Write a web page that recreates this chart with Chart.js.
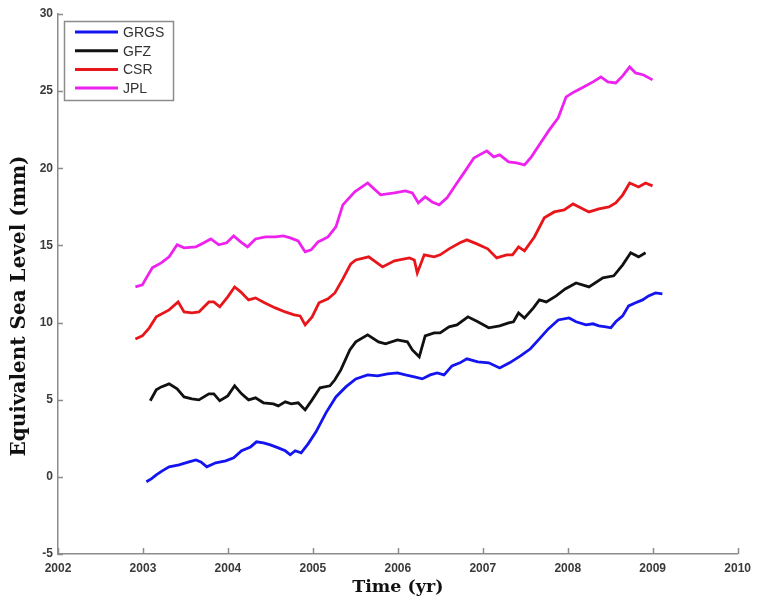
<!DOCTYPE html>
<html>
<head>
<meta charset="utf-8">
<script src="https://cdn.jsdelivr.net/npm/chart.js@4/dist/chart.umd.min.js"></script>
<style>
  html, body { margin: 0; padding: 0; background: #ffffff; }
  #wrap { width: 758px; height: 601px; }
</style>
</head>
<body>
<div id="wrap"><canvas id="c" width="758" height="601"></canvas></div>
<script>
// Equivalent sea level from GRACE solutions (mm), by decimal year
const seriesNames = ['GRGS', 'GFZ', 'CSR', 'JPL'];
const seriesColors = ['#1414f0', '#111111', '#e8161b', '#ee22ee'];

const grgsYear = [2003.040, 2003.098, 2003.157, 2003.227, 2003.308, 2003.425, 2003.542, 2003.624, 2003.682, 2003.752,
  2003.857, 2003.974, 2004.068, 2004.161, 2004.266, 2004.336, 2004.418, 2004.500, 2004.593, 2004.675,
  2004.734, 2004.792, 2004.862, 2004.944, 2005.037, 2005.154, 2005.271, 2005.388, 2005.505, 2005.645,
  2005.762, 2005.879, 2005.995, 2006.089, 2006.194, 2006.287, 2006.381, 2006.463, 2006.544, 2006.638,
  2006.731, 2006.813, 2006.942, 2007.070, 2007.199, 2007.315, 2007.444, 2007.561, 2007.666, 2007.771,
  2007.888, 2008.016, 2008.098, 2008.215, 2008.297, 2008.367, 2008.449, 2008.507, 2008.565, 2008.647,
  2008.717, 2008.799, 2008.881, 2008.951, 2009.033, 2009.114];
const grgsLevel = [-0.32, -0.13, 0.13, 0.39, 0.65, 0.78, 0.97, 1.10, 0.97, 0.65,
  0.91, 1.04, 1.23, 1.69, 1.94, 2.27, 2.20, 2.07, 1.88, 1.69,
  1.43, 1.69, 1.56, 2.14, 2.92, 4.15, 5.18, 5.83, 6.35, 6.61,
  6.55, 6.68, 6.74, 6.61, 6.48, 6.35, 6.61, 6.74, 6.61, 7.19,
  7.39, 7.65, 7.45, 7.39, 7.06, 7.39, 7.84, 8.30, 8.94, 9.59,
  10.17, 10.30, 10.05, 9.85, 9.92, 9.79, 9.72, 9.66, 10.05, 10.43,
  11.08, 11.28, 11.47, 11.73, 11.92, 11.86];

const gfzYear = [2003.086, 2003.157, 2003.215, 2003.308, 2003.402, 2003.484, 2003.577, 2003.659, 2003.776, 2003.834,
  2003.904, 2003.998, 2004.079, 2004.161, 2004.243, 2004.325, 2004.418, 2004.535, 2004.593, 2004.675,
  2004.745, 2004.827, 2004.909, 2004.991, 2005.084, 2005.201, 2005.259, 2005.329, 2005.435, 2005.505,
  2005.645, 2005.773, 2005.855, 2005.995, 2006.112, 2006.171, 2006.252, 2006.322, 2006.428, 2006.498,
  2006.603, 2006.696, 2006.825, 2006.942, 2007.070, 2007.199, 2007.304, 2007.362, 2007.421, 2007.491,
  2007.596, 2007.666, 2007.748, 2007.864, 2007.970, 2008.098, 2008.250, 2008.414, 2008.542, 2008.647,
  2008.741, 2008.834, 2008.916];
const gfzLevel = [4.93, 5.64, 5.83, 6.03, 5.70, 5.18, 5.06, 4.99, 5.38, 5.38,
  4.93, 5.25, 5.90, 5.38, 4.99, 5.12, 4.80, 4.73, 4.60, 4.86,
  4.73, 4.80, 4.34, 4.99, 5.77, 5.90, 6.29, 6.93, 8.23, 8.75,
  9.20, 8.75, 8.62, 8.88, 8.75, 8.23, 7.78, 9.14, 9.33, 9.33,
  9.72, 9.85, 10.37, 10.05, 9.66, 9.79, 9.98, 10.05, 10.63, 10.30,
  10.95, 11.47, 11.34, 11.73, 12.18, 12.57, 12.31, 12.90, 13.03, 13.74,
  14.52, 14.26, 14.52];

const csrYear = [2002.911, 2002.993, 2003.075, 2003.157, 2003.308, 2003.414, 2003.484, 2003.577, 2003.659, 2003.776,
  2003.834, 2003.904, 2003.998, 2004.079, 2004.150, 2004.243, 2004.325, 2004.430, 2004.558, 2004.675,
  2004.780, 2004.850, 2004.909, 2004.991, 2005.072, 2005.178, 2005.259, 2005.353, 2005.446, 2005.505,
  2005.657, 2005.820, 2005.960, 2006.136, 2006.194, 2006.229, 2006.311, 2006.428, 2006.498, 2006.603,
  2006.731, 2006.813, 2006.930, 2007.058, 2007.164, 2007.280, 2007.350, 2007.421, 2007.491, 2007.607,
  2007.724, 2007.841, 2007.958, 2008.063, 2008.157, 2008.250, 2008.367, 2008.484, 2008.565, 2008.647,
  2008.729, 2008.834, 2008.916, 2008.998];
const csrLevel = [8.94, 9.14, 9.66, 10.37, 10.82, 11.34, 10.69, 10.63, 10.69, 11.34,
  11.34, 11.02, 11.67, 12.31, 11.99, 11.47, 11.60, 11.28, 10.95, 10.69,
  10.50, 10.43, 9.85, 10.37, 11.28, 11.54, 11.92, 12.83, 13.80, 14.06,
  14.26, 13.61, 14.00, 14.19, 14.06, 13.22, 14.39, 14.26, 14.39, 14.78,
  15.17, 15.36, 15.10, 14.78, 14.19, 14.39, 14.39, 14.91, 14.65, 15.55,
  16.79, 17.17, 17.30, 17.69, 17.43, 17.17, 17.37, 17.50, 17.76, 18.28,
  19.05, 18.79, 19.05, 18.86];

const jplYear = [2002.911, 2002.993, 2003.040, 2003.110, 2003.215, 2003.308, 2003.402, 2003.484, 2003.624, 2003.717,
  2003.799, 2003.893, 2003.986, 2004.068, 2004.150, 2004.231, 2004.325, 2004.442, 2004.558, 2004.652,
  2004.734, 2004.827, 2004.909, 2004.979, 2005.061, 2005.178, 2005.271, 2005.353, 2005.493, 2005.645,
  2005.797, 2005.960, 2006.089, 2006.171, 2006.241, 2006.322, 2006.404, 2006.486, 2006.579, 2006.696,
  2006.778, 2006.895, 2007.047, 2007.129, 2007.199, 2007.304, 2007.397, 2007.491, 2007.572, 2007.666,
  2007.783, 2007.888, 2007.981, 2008.075, 2008.192, 2008.297, 2008.390, 2008.472, 2008.565, 2008.647,
  2008.729, 2008.799, 2008.893, 2008.998];
const jplLevel = [12.31, 12.44, 12.90, 13.55, 13.87, 14.26, 15.04, 14.84, 14.91, 15.17,
  15.42, 15.04, 15.17, 15.62, 15.23, 14.91, 15.42, 15.55, 15.55, 15.62,
  15.49, 15.29, 14.58, 14.71, 15.23, 15.55, 16.20, 17.63, 18.47, 19.05,
  18.28, 18.41, 18.54, 18.41, 17.76, 18.15, 17.82, 17.63, 18.08, 19.05,
  19.70, 20.67, 21.13, 20.74, 20.87, 20.42, 20.35, 20.22, 20.74, 21.52,
  22.49, 23.27, 24.63, 24.95, 25.28, 25.60, 25.92, 25.60, 25.53, 25.99,
  26.57, 26.18, 26.05, 25.73];

const xTicks = [2002, 2003, 2004, 2005, 2006, 2007, 2008, 2009, 2010];
const yTicks = [-5, 0, 5, 10, 15, 20, 25, 30];
const xTitle = 'Time (yr)';
const yTitle = 'Equivalent Sea Level (mm)';

const years = [grgsYear, gfzYear, csrYear, jplYear];
const levels = [grgsLevel, gfzLevel, csrLevel, jplLevel];

function toPoints(xs, ys) {
  return xs.map((x, i) => ({ x: x, y: ys[i] }));
}

const AXIS_GREY = '#8c8c8c';
const TICK_FONT = { family: '"Liberation Sans", Arial, sans-serif', size: 12, weight: 'bold' };

// Short tick marks pointing into the plot area from the left and bottom axes
const inwardTicks = {
  id: 'inwardTicks',
  afterDraw(chart) {
    const ctx = chart.ctx;
    const xs = chart.scales.x, ys = chart.scales.y;
    const a = chart.chartArea;
    ctx.save();
    ctx.strokeStyle = AXIS_GREY;
    ctx.lineWidth = 1.5;
    ctx.beginPath();
    xs.ticks.forEach(t => {
      const px = Math.round(xs.getPixelForValue(t.value)) + 0.5;
      ctx.moveTo(px, a.bottom);
      ctx.lineTo(px, a.bottom - 6);
    });
    ys.ticks.forEach(t => {
      const py = Math.round(ys.getPixelForValue(t.value)) + 0.5;
      ctx.moveTo(a.left, py);
      ctx.lineTo(a.left + 5, py);
    });
    ctx.stroke();
    ctx.restore();
  }
};

// Axis titles in a bold serif face
const axisTitles = {
  id: 'axisTitles',
  afterDraw(chart) {
    const ctx = chart.ctx;
    const a = chart.chartArea;
    ctx.save();
    ctx.fillStyle = '#111111';
    ctx.textAlign = 'center';
    ctx.textBaseline = 'middle';
    ctx.font = 'bold 17.5px "DejaVu Serif", serif';
    ctx.fillText(xTitle, (a.left + a.right) / 2, 587);
    ctx.translate(20, 306);
    ctx.rotate(-Math.PI / 2);
    ctx.font = 'bold 20px "DejaVu Serif", serif';
    ctx.fillText(yTitle, 0, 0);
    ctx.restore();
  }
};

// Boxed legend in the upper-left corner of the plot
const boxLegend = {
  id: 'boxLegend',
  afterDraw(chart) {
    const ctx = chart.ctx;
    const a = chart.chartArea;
    const x0 = a.left + 6, y0 = a.top + 7, w = 109, h = 79;
    ctx.save();
    ctx.fillStyle = '#ffffff';
    ctx.fillRect(x0, y0, w, h);
    ctx.strokeStyle = AXIS_GREY;
    ctx.lineWidth = 1.5;
    ctx.strokeRect(x0 + 0.5, y0 + 0.5, w, h);
    ctx.font = '14px "Liberation Sans", Arial, sans-serif';
    ctx.textBaseline = 'middle';
    ctx.textAlign = 'left';
    chart.data.datasets.forEach((ds, i) => {
      const y = y0 + 11 + i * 18.7;
      ctx.strokeStyle = ds.borderColor;
      ctx.lineWidth = 3;
      ctx.beginPath();
      ctx.moveTo(x0 + 11, y);
      ctx.lineTo(x0 + 54, y);
      ctx.stroke();
      ctx.fillStyle = '#333333';
      ctx.fillText(ds.label, x0 + 59, y + 1);
    });
    ctx.restore();
  }
};

new Chart(document.getElementById('c'), {
  type: 'line',
  data: {
    datasets: seriesNames.map((name, i) => ({
      label: name,
      data: toPoints(years[i], levels[i]),
      borderColor: seriesColors[i],
      backgroundColor: seriesColors[i],
      borderWidth: 2.8,
      pointRadius: 0,
      tension: 0,
      fill: false
    }))
  },
  options: {
    responsive: false,
    animation: false,
    devicePixelRatio: 1,
    layout: { padding: { top: 14, right: 15, left: 0, bottom: 0 } },
    plugins: {
      legend: { display: false },
      tooltip: { enabled: false }
    },
    scales: {
      x: {
        type: 'linear',
        min: xTicks[0],
        max: xTicks[xTicks.length - 1],
        afterBuildTicks: s => { s.ticks = xTicks.map(v => ({ value: v })); },
        afterFit: s => { s.height = 47; },
        grid: { display: false, drawTicks: false },
        border: { display: true, color: AXIS_GREY, width: 1.5 },
        ticks: {
          padding: 7,
          maxRotation: 0,
          autoSkip: false,
          color: '#3a3a3a',
          font: TICK_FONT,
          callback: v => String(v)
        }
      },
      y: {
        type: 'linear',
        min: yTicks[0],
        max: yTicks[yTicks.length - 1],
        afterBuildTicks: s => { s.ticks = yTicks.map(v => ({ value: v })); },
        afterFit: s => { s.width = 58; },
        grid: { display: false, drawTicks: false },
        border: { display: true, color: AXIS_GREY, width: 1.5 },
        ticks: {
          padding: 5,
          autoSkip: false,
          color: '#3a3a3a',
          font: TICK_FONT,
          callback: v => String(v)
        }
      }
    }
  },
  plugins: [inwardTicks, boxLegend, axisTitles]
});
</script>
</body>
</html>
